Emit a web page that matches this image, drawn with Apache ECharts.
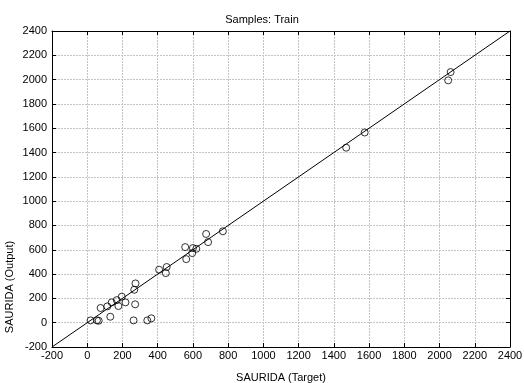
<!DOCTYPE html>
<html>
<head>
<meta charset="utf-8">
<script src="https://cdn.jsdelivr.net/npm/echarts@6/dist/echarts.min.js"></script>
<style>
  html, body { margin: 0; padding: 0; background: #fff; }
  #chart { width: 524px; height: 383px; }
</style>
</head>
<body>
<div id="chart"></div>
<script>
const targetValues = [19, 55, 65, 76, 114, 131, 139, 168, 177, 196, 217, 263, 267, 274, 272, 341, 364,
  408, 446, 451, 556, 562, 596, 600, 619, 686, 675, 770, 1470, 1575, 2049, 2063]
const outputValues = [19, 19, 16, 121, 134, 49, 167, 186, 137, 214, 167, 19, 271, 323, 151, 19, 36,
  436, 408, 458, 622, 523, 573, 614, 608, 663, 730, 752, 1440, 1565, 1994, 2062]
const fitLine = [[-200, -200], [2400, 2400]]
const axisMin = -200
const axisMax = 2400
const axisStep = 200

const chart = echarts.init(document.getElementById('chart'), null, { renderer: 'canvas' })

const font = 'Liberation Sans, Arial, sans-serif'
const frame = { show: true, onZero: false, lineStyle: { color: '#000', width: 1 } }
const ticks = { show: true, inside: true, length: 4, lineStyle: { color: '#000' } }
const grid = { show: true, lineStyle: { color: '#c4c4c4', type: [2, 1], width: 1 } }
const plain = (v) => String(v)

chart.setOption({
  animation: false,
  backgroundColor: '#fff',
  title: {
    text: 'Samples: Train',
    left: 'center',
    top: 9,
    textStyle: { fontFamily: font, fontSize: 11, fontWeight: 'normal', color: '#000' },
  },
  grid: { left: 52, right: 14, top: 31, bottom: 36, containLabel: false, outerBoundsMode: 'none' },
  xAxis: [
    {
      type: 'value', min: axisMin, max: axisMax, interval: axisStep,
      name: 'SAURIDA (Target)', nameLocation: 'middle', nameGap: 25,
      nameTextStyle: { fontFamily: font, fontSize: 11, color: '#000' },
      axisLine: frame, axisTick: ticks, splitLine: grid,
      axisLabel: { fontFamily: font, fontSize: 11, color: '#000', margin: 3, formatter: plain },
    },
    {
      type: 'value', position: 'top', min: axisMin, max: axisMax, interval: axisStep,
      axisLine: frame, axisTick: ticks, splitLine: { show: false }, axisLabel: { show: false },
    },
  ],
  yAxis: [
    {
      type: 'value', min: axisMin, max: axisMax, interval: axisStep,
      axisLine: frame, axisTick: ticks, splitLine: grid,
      axisLabel: { fontFamily: font, fontSize: 11, color: '#000', margin: 5, formatter: plain },
    },
    {
      type: 'value', position: 'right', min: axisMin, max: axisMax, interval: axisStep,
      axisLine: frame, axisTick: ticks, splitLine: { show: false }, axisLabel: { show: false },
    },
  ],
  graphic: [
    {
      type: 'text',
      x: 10, y: 287, rotation: Math.PI / 2,
      style: {
        text: 'SAURIDA (Output)', fontFamily: font, fontSize: 11, fill: '#000',
        textAlign: 'center', textVerticalAlign: 'middle',
      },
    },
  ],
  series: [
    {
      type: 'line',
      data: fitLine,
      symbol: 'none',
      lineStyle: { color: '#000', width: 1 },
      silent: true,
    },
    {
      type: 'scatter',
      data: targetValues.map((t, i) => [t, outputValues[i]]),
      symbol: 'circle',
      symbolSize: 7,
      itemStyle: { color: 'rgba(255,255,255,0)', borderColor: '#000', borderWidth: 1 },
    },
  ],
})
</script>
</body>
</html>
